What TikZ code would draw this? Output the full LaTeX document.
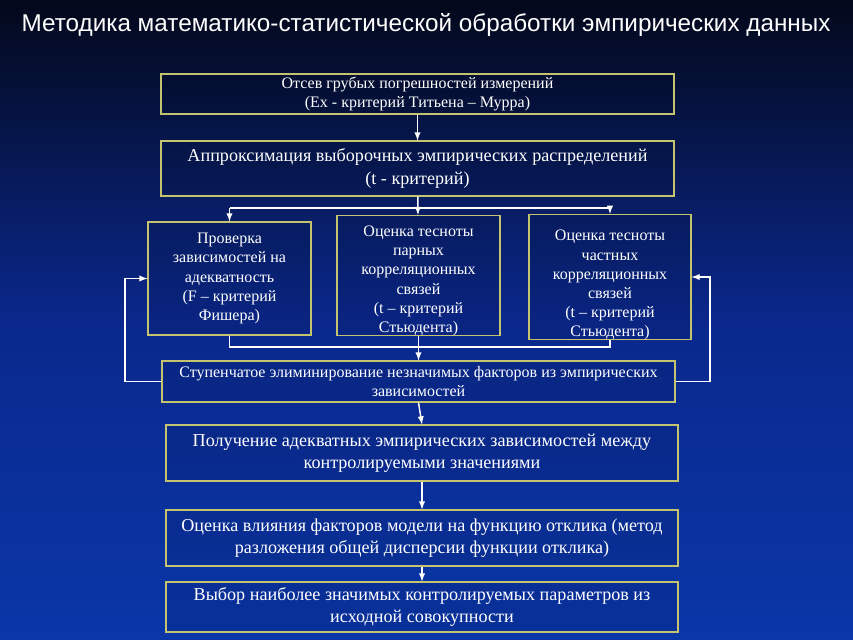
\documentclass[tikz,border=0pt]{standalone}
\usepackage{fontspec}
\setmainfont{Liberation Serif}
\newfontfamily\headfont{Liberation Sans}
\usepackage{xcolor}
\usepackage{tikz}
\usetikzlibrary{arrows, positioning}

\definecolor{bgtop}{RGB}{3,8,26}
\definecolor{bgmid}{RGB}{10,40,140}
\definecolor{bgbot}{RGB}{10,54,168}
\definecolor{frame}{RGB}{196,196,112}

\begin{document}
\begin{tikzpicture}[
    x=0.75pt, y=-0.75pt,
    box/.style={rectangle, draw=frame, line width=0.8pt, fill=black, fill opacity=0.08, text opacity=1, text=white, align=center, inner sep=0pt},
    small/.style={box, font=\fontsize{12}{14.3}\selectfont},
    large/.style={box, font=\fontsize{13.6}{16.8}\selectfont},
    wire/.style={white, line width=1.1pt},
    arrow/.style={->, >=latex, white, line width=1.1pt}
]

\shade[top color=bgtop, bottom color=bgbot, middle color=bgmid] (0,0) rectangle (853,639);
\useasboundingbox (0,0) rectangle (853,639);

\node[text=white, font=\headfont\fontsize{18.2}{21}\selectfont] (title) at (426,25) {Методика математико-статистической обработки эмпирических данных};

\node[small, minimum width=384.75pt, minimum height=30pt] (sieve) at (417.5,94) {Отсев грубых погрешностей измерений\\(Ех - критерий Титьена – Мурра)};
\node[large, minimum width=384.75pt, minimum height=41.25pt] (approx) at (417.5,168.5) {Аппроксимация выборочных эмпирических распределений\\(t - критерий)};

\node[small, minimum width=122.25pt, minimum height=84.75pt] (check) at (229.5,278.5) {Проверка\\зависимостей на\\адекватность\\(F – критерий\\Фишера)};
\node[small, minimum width=122.25pt, minimum height=87.75pt] (pairs) at (418.5,275.5) {\rule{0pt}{16pt}Оценка тесноты\\парных\\корреляционных\\связей\\(t – критерий\\Стьюдента)};
\node[small, minimum width=121.5pt, minimum height=85.5pt] (partial) at (610,277) {\rule{0pt}{20pt}Оценка тесноты\\частных\\корреляционных\\связей\\(t – критерий\\Стьюдента)};

\node[small, minimum width=384.75pt, minimum height=30.75pt] (elim) at (418.5,381.5) {Ступенчатое элиминирование незначимых факторов из эмпирических\\зависимостей};
\node[large, minimum width=384pt, minimum height=42pt] (obtain) at (422,453) {Получение адекватных эмпирических зависимостей между\\контролируемыми значениями};
\node[large, minimum width=384pt, minimum height=42pt] (influence) at (422,538) {Оценка влияния факторов модели на функцию отклика (метод\\разложения общей дисперсии функции отклика)};
\node[large, minimum width=384pt, minimum height=37.5pt] (select) at (422,607) {Выбор наиболее значимых контролируемых параметров из\\исходной совокупности};

% branching buses
\coordinate (topbus) at (417.5,208);
\coordinate (lowbus) at (418,347);
\coordinate (leftrail) at (125,0);
\coordinate (rightrail) at (710,0);

\draw[arrow] (sieve) -- (approx);
\draw[arrow] (approx) -- (pairs);
\draw[wire] (topbus -| check.north) -- (topbus -| partial.north);
\draw[arrow] (topbus -| check.north) -- (check.north);
\draw[arrow] (topbus -| partial.north) -- (partial.north);

\draw[wire] (check.south) |- (lowbus -| partial.south) -- (partial.south);
\draw[arrow] (pairs) -- (elim);

% feedback loops
\draw[arrow] (elim.west) -- (elim.west -| leftrail) -- (check.west -| leftrail) -- (check.west);
\draw[arrow] (elim.east) -- (elim.east -| rightrail) -- (partial.east -| rightrail) -- (partial.east);

\draw[arrow] (elim.south) -- (obtain.north);
\draw[arrow] (obtain) -- (influence);
\draw[arrow] (influence) -- (select);

\end{tikzpicture}
\end{document}
